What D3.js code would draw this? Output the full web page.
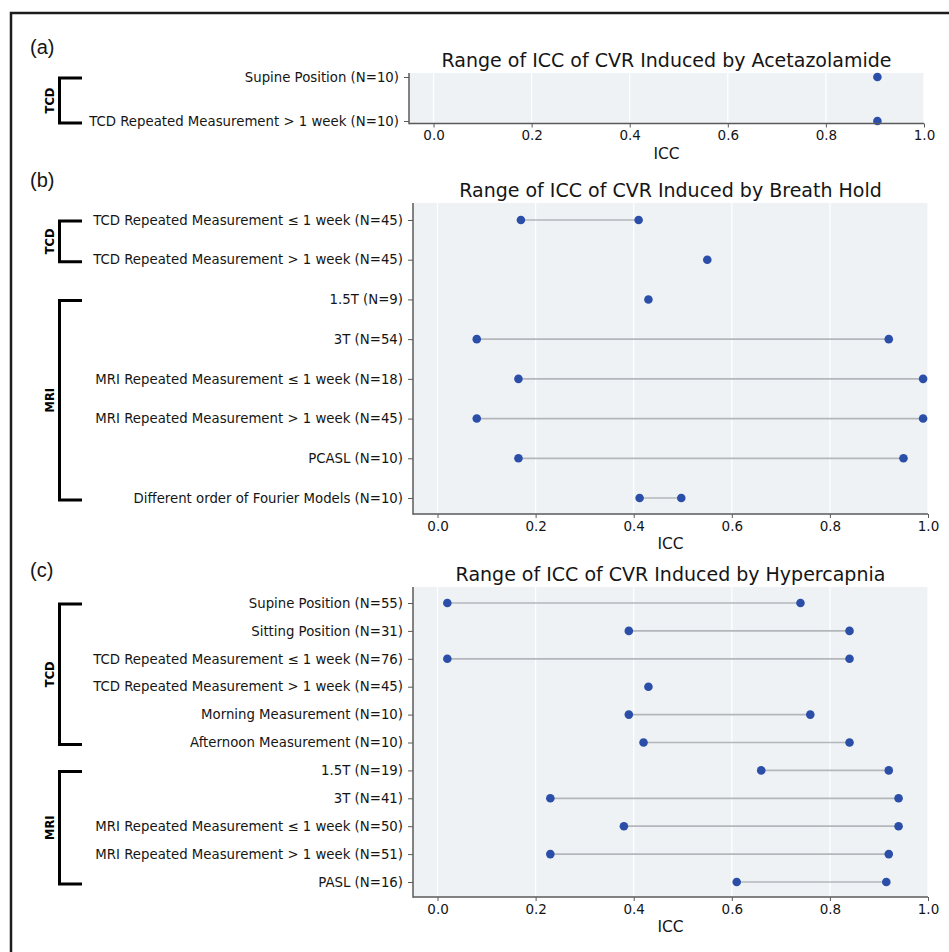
<!DOCTYPE html>
<html>
<head>
<meta charset="utf-8">
<script src="https://cdn.jsdelivr.net/npm/d3@7"></script>
<style>
	body { margin: 0; background: #fff; }
	text { font-family: 'DejaVu Sans', sans-serif; }
</style>
</head>
<body>
<svg id="chart"></svg>
<script>
// shared x ticks
const xTicks = [0, 0.2, 0.4, 0.6, 0.8, 1.0];

// (a) acetazolamide
const acetLabels = ['Supine Position (N=10)', 'TCD Repeated Measurement > 1 week (N=10)'];
const acetLow = [0.905, 0.905];
const acetHigh = [0.905, 0.905];
const acetGroups = [{ name: 'TCD', from: 0, to: 1 }];

// (b) breath hold
const breathLabels = [
	'TCD Repeated Measurement ≤ 1 week (N=45)',
	'TCD Repeated Measurement > 1 week (N=45)',
	'1.5T (N=9)',
	'3T (N=54)',
	'MRI Repeated Measurement ≤ 1 week (N=18)',
	'MRI Repeated Measurement > 1 week (N=45)',
	'PCASL (N=10)',
	'Different order of Fourier Models (N=10)',
];
const breathLow = [0.17, 0.55, 0.43, 0.08, 0.165, 0.08, 0.165, 0.412];
const breathHigh = [0.41, 0.55, 0.43, 0.92, 0.99, 0.99, 0.95, 0.497];
const breathGroups = [{ name: 'TCD', from: 0, to: 1 }, { name: 'MRI', from: 2, to: 7 }];

// (c) hypercapnia
const hyperLabels = [
	'Supine Position (N=55)',
	'Sitting Position (N=31)',
	'TCD Repeated Measurement ≤ 1 week (N=76)',
	'TCD Repeated Measurement > 1 week (N=45)',
	'Morning Measurement (N=10)',
	'Afternoon Measurement (N=10)',
	'1.5T (N=19)',
	'3T (N=41)',
	'MRI Repeated Measurement ≤ 1 week (N=50)',
	'MRI Repeated Measurement > 1 week (N=51)',
	'PASL (N=16)',
];
const hyperLow = [0.02, 0.39, 0.02, 0.43, 0.39, 0.42, 0.66, 0.23, 0.38, 0.23, 0.61];
const hyperHigh = [0.74, 0.84, 0.84, 0.43, 0.76, 0.84, 0.92, 0.94, 0.94, 0.92, 0.915];
const hyperGroups = [{ name: 'TCD', from: 0, to: 5 }, { name: 'MRI', from: 6, to: 10 }];

const colors = {
	panel: '#eef2f5',
	grid: '#ffffff',
	spine: '#5a5a5a',
	range: '#b3b7bc',
	dot: '#2b4ea8',
	text: '#151515',
};

const W = 949;
const H = 952;

const svg = d3.select('#chart')
	.attr('width', W)
	.attr('height', H);

// frame (only left and top edges are in the picture)
svg.append('path')
	.attr('d', `M11,${H} V13 H${W}`)
	.attr('fill', 'none')
	.attr('stroke', '#1c1c1c')
	.attr('stroke-width', 2.5);

const panels = [
	{
		tag: '(a)', tagY: 47,
		title: 'Range of ICC of CVR Induced by Acetazolamide',
		labels: acetLabels, low: acetLow, high: acetHigh, groups: acetGroups,
		x0: 409, x1: 924, top: 73, bottom: 123.5, first: 77, last: 121,
	},
	{
		tag: '(b)', tagY: 180,
		title: 'Range of ICC of CVR Induced by Breath Hold',
		labels: breathLabels, low: breathLow, high: breathHigh, groups: breathGroups,
		x0: 413, x1: 928, top: 203, bottom: 514, first: 220, last: 498,
	},
	{
		tag: '(c)', tagY: 570,
		title: 'Range of ICC of CVR Induced by Hypercapnia',
		labels: hyperLabels, low: hyperLow, high: hyperHigh, groups: hyperGroups,
		x0: 413, x1: 928, top: 587, bottom: 897, first: 603, last: 882,
	},
];

panels.forEach(p => drawPanel(p));

function drawPanel(p) {
	const g = svg.append('g');
	const x = d3.scaleLinear().domain([-0.05, 1.0]).range([p.x0, p.x1]);
	const y = d3.scalePoint().domain(p.labels).range([p.first, p.last]);

	g.append('text')
		.attr('x', 30)
		.attr('y', p.tagY)
		.attr('dominant-baseline', 'central')
		.style('font-family', "'Liberation Sans', Arial, sans-serif")
		.style('font-size', '20px')
		.attr('fill', colors.text)
		.text(p.tag);

	g.append('rect')
		.attr('x', p.x0)
		.attr('y', p.top)
		.attr('width', p.x1 - p.x0)
		.attr('height', p.bottom - p.top)
		.attr('fill', colors.panel);

	g.selectAll('.grid')
		.data(xTicks)
		.enter().append('line')
		.attr('x1', d => x(d))
		.attr('x2', d => x(d))
		.attr('y1', p.top)
		.attr('y2', p.bottom)
		.attr('stroke', colors.grid)
		.attr('stroke-width', 1.2);

	g.append('text')
		.attr('x', (p.x0 + p.x1) / 2)
		.attr('y', p.top - 6)
		.attr('text-anchor', 'middle')
		.style('font-size', '19px')
		.attr('fill', colors.text)
		.text(p.title);

	// ranges
	p.labels.forEach((lab, i) => {
		if (p.high[i] > p.low[i]) {
			g.append('line')
				.attr('x1', x(p.low[i]))
				.attr('x2', x(p.high[i]))
				.attr('y1', y(lab))
				.attr('y2', y(lab))
				.attr('stroke', colors.range)
				.attr('stroke-width', 1.7);
		}
	});

	p.labels.forEach((lab, i) => {
		const vals = p.high[i] > p.low[i] ? [p.low[i], p.high[i]] : [p.low[i]];
		vals.forEach(v => {
			g.append('circle')
				.attr('cx', x(v))
				.attr('cy', y(lab))
				.attr('r', 4.3)
				.attr('fill', colors.dot);
		});
	});

	// axes
	const xAxis = g.append('g')
		.attr('transform', `translate(0,${p.bottom})`)
		.call(d3.axisBottom(x).tickValues(xTicks).tickFormat(d3.format('.1f'))
			.tickSize(4).tickPadding(3).tickSizeOuter(0));
	xAxis.select('.domain').remove();
	xAxis.selectAll('line').attr('stroke', colors.spine);
	xAxis.selectAll('text')
		.style('font-size', '13.5px')
		.style('font-family', "'DejaVu Sans', sans-serif")
		.attr('fill', colors.text);

	const yAxis = g.append('g')
		.attr('transform', `translate(${p.x0},0)`)
		.call(d3.axisLeft(y).tickSize(5).tickPadding(5).tickSizeOuter(0));
	yAxis.select('.domain').remove();
	yAxis.selectAll('line').attr('stroke', colors.spine);
	yAxis.selectAll('text')
		.style('font-size', '13.3px')
		.style('font-family', "'DejaVu Sans', sans-serif")
		.attr('fill', colors.text);

	g.append('line')
		.attr('x1', p.x0)
		.attr('x2', p.x0)
		.attr('y1', p.top)
		.attr('y2', p.bottom + 0.75)
		.attr('stroke', colors.spine)
		.attr('stroke-width', 1.5);
	g.append('line')
		.attr('x1', p.x0)
		.attr('x2', p.x1)
		.attr('y1', p.bottom)
		.attr('y2', p.bottom)
		.attr('stroke', colors.spine)
		.attr('stroke-width', 1.5);

	g.append('text')
		.attr('x', (p.x0 + p.x1) / 2)
		.attr('y', p.bottom + 30)
		.attr('text-anchor', 'middle')
		.attr('dominant-baseline', 'central')
		.style('font-size', '15.5px')
		.attr('fill', colors.text)
		.text('ICC');

	// group brackets on the left
	p.groups.forEach(grp => {
		const t = y(p.labels[grp.from]) + 1;
		const b = y(p.labels[grp.to]) + 2;
		g.append('path')
			.attr('d', `M82,${t} H59.5 V${b} H82`)
			.attr('fill', 'none')
			.attr('stroke', '#000')
			.attr('stroke-width', 3);
		g.append('text')
			.attr('transform', `translate(50,${(t + b) / 2}) rotate(-90)`)
			.attr('text-anchor', 'middle')
			.attr('dominant-baseline', 'central')
			.style('font-size', '11.5px')
			.style('font-weight', 'bold')
			.attr('fill', '#000')
			.text(grp.name);
	});
}
</script>
</body>
</html>
